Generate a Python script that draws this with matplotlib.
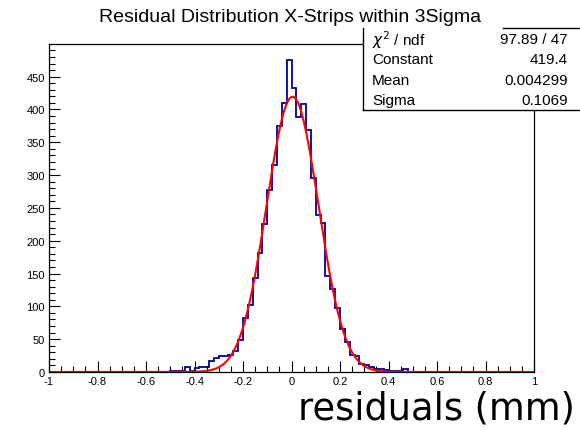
import numpy as np
import matplotlib
matplotlib.use("Agg")
import matplotlib.pyplot as plt
from matplotlib.patches import Rectangle
from matplotlib.lines import Line2D
from matplotlib.ticker import MultipleLocator

# histogram: 100 bins from -1 to 1, only the central part is filled
bin_lo, bin_hi, n_bins = -1.0, 1.0, 100
# bins from -0.50 to 0.00
counts_neg = [1, 1, 2, 7, 2, 6, 7, 7, 17, 21, 24, 24, 26, 32, 48,
              83, 102, 143, 182, 226, 278, 316, 375, 410, 476]
# bins from 0.00 to 0.50
counts_pos = [433, 388, 409, 368, 296, 239, 227, 147, 126, 98, 65, 46,
              26, 24, 12, 11, 7, 4, 4, 3, 1, 1, 2, 4, 0]

# gaussian fit result
fit_const, fit_mean, fit_sigma = 419.4, 0.004299, 0.1069
stats_rows = [(r"$\chi^{2}$ / ndf", "97.89 / 47"),
              ("Constant", "419.4"),
              ("Mean", "0.004299"),
              ("Sigma", "0.1069")]

edges = np.linspace(bin_lo, bin_hi, n_bins + 1)
counts = np.zeros(n_bins)
counts[25:50] = counts_neg
counts[50:75] = counts_pos

W, H = 580, 431
fig = plt.figure(figsize=(W / 100, H / 100), dpi=100)
helv = ['Liberation Sans', 'DejaVu Sans']

# axes frame in pixels: left 49, right 534, top 45, bottom 373
ax = fig.add_axes([49 / W, 1 - 373 / H, (534 - 49) / W, (373 - 45) / H])
ax.stairs(counts, edges, color='#000099', lw=1.3)
xf = np.linspace(bin_lo, bin_hi, 800)
yf = fit_const * np.exp(-0.5 * ((xf - fit_mean) / fit_sigma) ** 2)
ax.plot(xf, yf, color='red', lw=1.5)

ax.set_xlim(bin_lo, bin_hi)
ax.set_ylim(0, max(counts) * 1.05)
ax.xaxis.set_major_locator(MultipleLocator(0.2))
ax.xaxis.set_minor_locator(MultipleLocator(0.05))
ax.yaxis.set_major_locator(MultipleLocator(50))
ax.yaxis.set_minor_locator(MultipleLocator(10))
ax.tick_params(which='both', direction='in', top=False, right=False,
               labelsize=8, pad=3)
ax.tick_params(which='major', length=8, width=0.8)
ax.tick_params(which='minor', length=4, width=0.8)
xt = np.round(np.arange(-1, 1.01, 0.2), 1)
ax.set_xticks(xt)
ax.set_xticklabels(['%g' % v if abs(v) > 1e-9 else '0' for v in xt],
                   family=helv)
for lab in ax.get_yticklabels():
    lab.set_family(helv)
for s in ax.spines.values():
    s.set_linewidth(0.9)

fig.text(575 / W, 1 - 420 / H, 'residuals (mm)', ha='right', va='baseline',
         fontsize=26.5, family='DejaVu Sans')

fig.text(290 / W, 1 - 17 / H, 'Residual Distribution X-Strips within 3Sigma',
         ha='center', va='center', fontsize=14, family=helv)

# stats box
bx0, bx1, by0, by1 = 363, 579, 29, 111
box = Rectangle((bx0 / W, 1 - by1 / H), (bx1 - bx0) / W, (by1 - by0) / H,
                transform=fig.transFigure, facecolor='white',
                edgecolor='none', zorder=5)
fig.add_artist(box)
lk = dict(transform=fig.transFigure, color='black', lw=1.0, zorder=6)
fig.add_artist(Line2D([bx0 / W, bx0 / W], [1 - by0 / H, 1 - by1 / H], **lk))
fig.add_artist(Line2D([bx0 / W, bx1 / W], [1 - by1 / H, 1 - by1 / H], **lk))
fig.add_artist(Line2D([503 / W, bx1 / W], [1 - by0 / H, 1 - by0 / H], **lk))
for i, (name, val) in enumerate(stats_rows):
    yy = 1 - (40 + 20.3 * i) / H
    fig.text(372 / W, yy, name, ha='left', va='center', fontsize=11,
             family=helv, zorder=7)
    fig.text(568 / W, yy, val, ha='right', va='center', fontsize=11,
             family=helv, zorder=7)

fig.savefig('out.png', dpi=100)
